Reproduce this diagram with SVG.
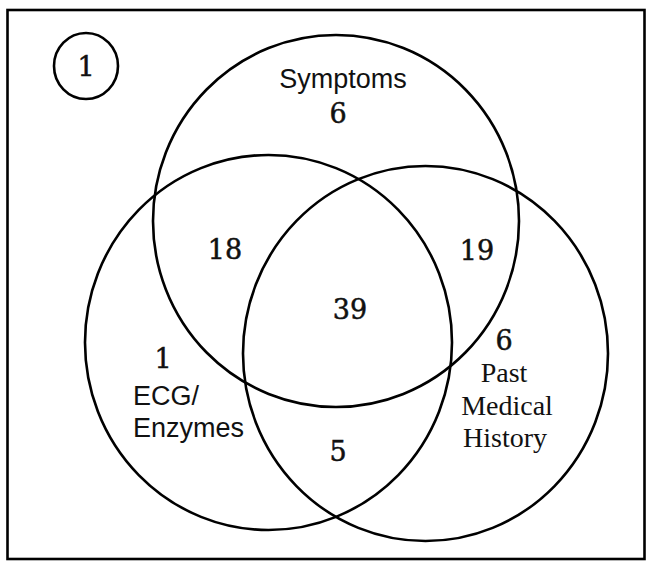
<svg xmlns="http://www.w3.org/2000/svg" width="647" height="562" viewBox="0 0 647 562">
  <style>
    .ring { fill: none; stroke: #000; stroke-width: 2.6; }
    .frame { fill: none; stroke: #000; stroke-width: 2.6; }
    .num { font-family: "DejaVu Serif", "Liberation Serif", serif; font-size: 27px; text-anchor: middle; fill: #111; stroke: #111; stroke-width: 0.5; }
    .sans { font-family: "Liberation Sans", "DejaVu Sans", sans-serif; font-size: 27px; fill: #111; }
    .serif { font-family: "Liberation Serif", "DejaVu Serif", serif; font-size: 28px; text-anchor: middle; fill: #111; }
  </style>
  <rect width="647" height="562" fill="#fff"/>
  <rect class="frame" x="7.5" y="10" width="637" height="549"/>

  <g id="badge">
    <ellipse class="ring" cx="86" cy="66" rx="32" ry="33"/>
    <text class="num" x="86" y="76">1</text>
  </g>

  <g id="symptoms">
    <ellipse class="ring" cx="336" cy="221" rx="183" ry="186"/>
    <text class="sans" x="343" y="88" text-anchor="middle">Symptoms</text>
    <text class="num" x="338" y="123">6</text>
  </g>

  <g id="ecg-enzymes">
    <ellipse class="ring" cx="268.5" cy="342.5" rx="183.5" ry="187.5"/>
    <text class="num" x="163" y="368">1</text>
    <text class="sans" x="133" y="405">ECG/</text>
    <text class="sans" x="133" y="437">Enzymes</text>
  </g>

  <g id="past-medical-history">
    <ellipse class="ring" cx="425.5" cy="353.5" rx="182.5" ry="187.5"/>
    <text class="num" x="504" y="350">6</text>
    <text class="serif" x="504" y="382">Past</text>
    <text class="serif" x="507" y="415">Medical</text>
    <text class="serif" x="505" y="447">History</text>
  </g>

  <g id="overlaps">
    <text class="num" x="225" y="259">18</text>
    <text class="num" x="477" y="260">19</text>
    <text class="num" x="350" y="319">39</text>
    <text class="num" x="338" y="461">5</text>
  </g>
</svg>
